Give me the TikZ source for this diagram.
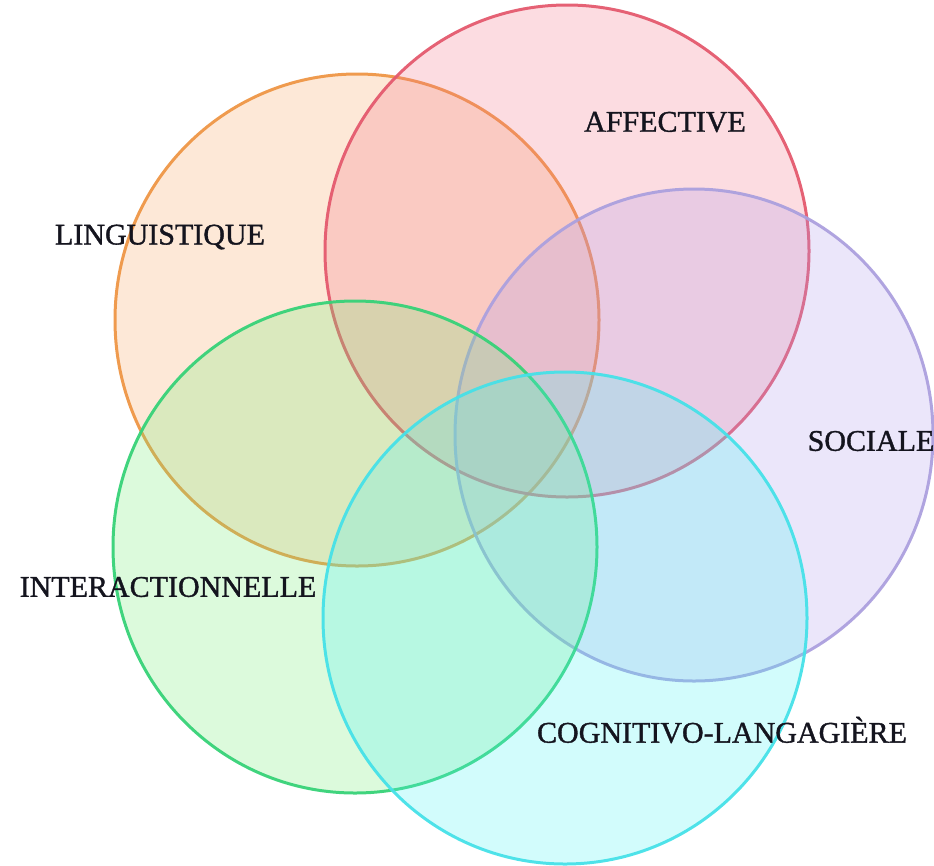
\documentclass[tikz,border=0pt]{standalone}
\usepackage{fontspec}
\setmainfont{Liberation Serif}[FakeBold=1.2]
\usetikzlibrary{shapes.geometric}
\definecolor{orStroke}{RGB}{238,150,70}
\definecolor{orFill}{RGB}{247,163,95}
\definecolor{rdStroke}{RGB}{228,90,110}
\definecolor{rdFill}{RGB}{243,115,135}
\definecolor{puStroke}{RGB}{172,160,222}
\definecolor{puFill}{RGB}{175,155,235}
\definecolor{grStroke}{RGB}{55,210,120}
\definecolor{grFill}{RGB}{115,235,115}
\definecolor{cyStroke}{RGB}{70,225,232}
\definecolor{cyFill}{RGB}{75,243,243}
\definecolor{txt}{RGB}{20,20,30}
\begin{document}
\begin{tikzpicture}[x=1pt,y=-1pt,
  setcircle/.style={ellipse, minimum width=484pt, minimum height=492pt, inner sep=0pt,
    line width=3pt, fill opacity=0.25, draw opacity=0.95},
  setlabel/.style={text=txt, inner sep=0pt, font=\fontsize{30}{36}\selectfont}]
\useasboundingbox (0,0) rectangle (934,865);
\node[setcircle, draw=orStroke, fill=orFill] (ling) at (357,320) {};
\node[setcircle, draw=rdStroke, fill=rdFill] (aff) at (567,251) {};
\node[setcircle, draw=puStroke, fill=puFill, minimum width=478pt] (soc) at (694,435) {};
\node[setcircle, draw=grStroke, fill=grFill] (inter) at (355,547) {};
\node[setcircle, draw=cyStroke, fill=cyFill] (cog) at (565,618) {};
\node[setlabel] (tling) at (160,237) {LINGUISTIQUE};
\node[setlabel] (taff) at (665,122) {AFFECTIVE};
\node[setlabel] (tsoc) at (871,441) {SOCIALE};
\node[setlabel] (tinter) at (168,587) {INTERACTIONNELLE};
\node[setlabel] (tcog) at (722,730) {COGNITIVO-LANGAGIÈRE};
\end{tikzpicture}
\end{document}
